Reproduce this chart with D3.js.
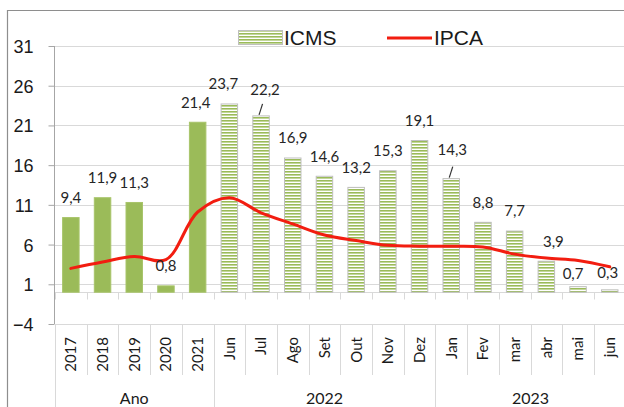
<!DOCTYPE html>
<html>
<head>
<meta charset="utf-8">
<script src="https://cdnjs.cloudflare.com/ajax/libs/d3/7.8.5/d3.min.js"></script>
<style>
  body { margin: 0; background: #fff; }
  svg { display: block; }
</style>
</head>
<body>
<svg id="chart" width="624" height="407"></svg>
<script>
  // categories (first group = annual values, then monthly 2022 / 2023)
  const categories = ["2017", "2018", "2019", "2020", "2021",
    "Jun", "Jul", "Ago", "Set", "Out", "Nov", "Dez",
    "Jan", "Fev", "mar", "abr", "mai", "jun"];
  const groupLabels = ["Ano", "2022", "2023"];
  const groupSizes = [5, 7, 6];

  const icms = [9.4, 11.9, 11.3, 0.8, 21.4, 23.7, 22.2, 16.9, 14.6, 13.2, 15.3, 19.1,
    14.3, 8.8, 7.7, 3.9, 0.7, 0.3];
  const ipca = [3.0, 3.8, 4.5, 4.1, 10.1, 11.9, 10.0, 8.6, 7.2, 6.5, 5.9, 5.8,
    5.8, 5.7, 4.8, 4.3, 4.0, 3.2];

  const yTicks = [-4, 1, 6, 11, 16, 21, 26, 31];

  const green = "#9bbb59";
  const red = "#f21d10";

  const svg = d3.select("#chart");

  const plotLeft = 55, plotRight = 625.6, plotTop = 46, plotBottom = 324;

  const x = d3.scaleBand()
    .domain(d3.range(categories.length))
    .range([plotLeft, plotRight])
    .paddingInner(0.48)
    .paddingOuter(0.24);
  const step = x.step();
  const cx = i => x(i) + x.bandwidth() / 2;

  const y = d3.scaleLinear().domain([-4, 31]).range([plotBottom, plotTop]);

  // stripe pattern for monthly bars
  const defs = svg.append("defs");
  const pat = defs.append("pattern")
    .attr("id", "stripes")
    .attr("patternUnits", "userSpaceOnUse")
    .attr("width", 6).attr("height", 3);
  pat.append("rect").attr("width", 6).attr("height", 3).attr("fill", "#fff");
  pat.append("rect").attr("width", 6).attr("height", 1.6).attr("fill", green);

  // chart border
  svg.append("path")
    .attr("d", "M7.5,407 V10.5 H624")
    .attr("fill", "none")
    .attr("stroke", "#8e8e8e")
    .attr("stroke-width", 1.2);

  // gridlines
  svg.append("g")
    .selectAll("line")
    .data(yTicks)
    .join("line")
    .attr("x1", plotLeft).attr("x2", 624)
    .attr("y1", d => Math.round(y(d)) + 0.5)
    .attr("y2", d => Math.round(y(d)) + 0.5)
    .attr("stroke", "#d9d9d9");

  // y axis
  const yAxis = svg.append("g")
    .attr("transform", `translate(${plotLeft - 0.5},0)`)
    .call(d3.axisLeft(y).tickValues(yTicks).tickSize(6).tickPadding(15));
  yAxis.select(".domain").attr("stroke", "#a6a6a6").attr("d", `M0,${plotTop}V${plotBottom}`);
  yAxis.selectAll(".tick line").attr("stroke", "#a6a6a6");
  yAxis.selectAll(".tick text")
    .attr("font-family", "'Liberation Sans', Arial, sans-serif")
    .attr("font-size", 18)
    .attr("fill", "#1a1a1a")
    .attr("dy", "0.36em");

  // zero line of category axis with small ticks
  const y0 = Math.round(y(0)) + 0.5;
  svg.append("line")
    .attr("x1", plotLeft).attr("x2", 624)
    .attr("y1", y0).attr("y2", y0)
    .attr("stroke", "#d9d9d9");
  svg.append("g")
    .selectAll("line")
    .data(d3.range(categories.length + 1))
    .join("line")
    .attr("x1", i => Math.round(plotLeft + i * step) + 0.5)
    .attr("x2", i => Math.round(plotLeft + i * step) + 0.5)
    .attr("y1", y0).attr("y2", y0 + 7)
    .attr("stroke", "#d9d9d9");

  // category table below the plot
  const tableTop = Math.round(y(-4)) + 0.5;
  svg.append("g")
    .selectAll("line")
    .data(d3.range(categories.length + 1))
    .join("line")
    .attr("x1", i => Math.round(plotLeft + i * step) + 0.5)
    .attr("x2", i => Math.round(plotLeft + i * step) + 0.5)
    .attr("y1", tableTop).attr("y2", 375)
    .attr("stroke", "#d9d9d9");

  const groupBounds = [0];
  groupSizes.forEach((s, k) => groupBounds.push(groupBounds[k] + s));
  svg.append("g")
    .selectAll("line")
    .data(groupBounds)
    .join("line")
    .attr("x1", i => Math.round(plotLeft + i * step) + 0.5)
    .attr("x2", i => Math.round(plotLeft + i * step) + 0.5)
    .attr("y1", tableTop).attr("y2", 407)
    .attr("stroke", "#d9d9d9");

  svg.append("g")
    .selectAll("text")
    .data(categories)
    .join("text")
    .attr("transform", (d, i) => `translate(${cx(i)},337) rotate(-90)`)
    .attr("dy", "0.36em")
    .attr("text-anchor", "end")
    .attr("font-family", "Lato, sans-serif")
    .attr("font-size", 15)
    .attr("fill", "#1a1a1a")
    .text(d => d);

  svg.append("g")
    .selectAll("text")
    .data(groupLabels)
    .join("text")
    .attr("x", (d, k) => plotLeft + (groupBounds[k] + groupBounds[k + 1]) / 2 * step)
    .attr("y", 404)
    .attr("text-anchor", "middle")
    .attr("font-family", "Lato, sans-serif")
    .attr("font-size", 16)
    .attr("fill", "#1a1a1a")
    .text(d => d);

  // bars
  svg.append("g")
    .selectAll("rect")
    .data(icms)
    .join("rect")
    .attr("x", (d, i) => x(i))
    .attr("width", x.bandwidth())
    .attr("y", d => y(d))
    .attr("height", d => y(0) - y(d))
    .attr("fill", (d, i) => i < groupSizes[0] ? green : "url(#stripes)")
    .attr("stroke", (d, i) => i < groupSizes[0] ? "#a8c46a" : "#bfbfbf")
    .attr("stroke-width", 1);

  // IPCA line
  const line = d3.line()
    .curve(d3.curveCatmullRom)
    .x((d, i) => cx(i))
    .y(d => y(d));
  svg.append("path")
    .datum(ipca)
    .attr("d", line)
    .attr("fill", "none")
    .attr("stroke", red)
    .attr("stroke-width", 3)
    .attr("stroke-linecap", "round");

  // data labels (a few were moved by hand in the original)
  const nudge = { 4: [-2, 0], 5: [-6, 0], 6: [4, -6], 12: [1, -9], 15: [7, 0], 16: [-5, 7], 17: [-2, 3] };
  const labelPos = i => {
    const [dx, dy] = nudge[i] || [0, 0];
    return [cx(i) + dx, y(icms[i]) - 20 + dy];
  };
  svg.append("g")
    .selectAll("text")
    .data(icms)
    .join("text")
    .attr("x", (d, i) => labelPos(i)[0])
    .attr("y", (d, i) => labelPos(i)[1])
    .attr("dy", "0.36em")
    .attr("text-anchor", "middle")
    .attr("font-family", "Lato, sans-serif")
    .attr("font-size", 15)
    .attr("fill", "#262626")
    .text(d => d3.format(".1f")(d).replace(".", ","));

  // leader lines for moved labels
  [6, 12].forEach(i => {
    const top = y(icms[i]);
    svg.append("line")
      .attr("x1", cx(i) - 2).attr("y1", top - 1)
      .attr("x2", cx(i) + 1.5).attr("y2", top - 12)
      .attr("stroke", "#333")
      .attr("stroke-width", 1.2);
  });

  // legend
  const lg = svg.append("g").attr("font-family", "'Liberation Sans', Arial, sans-serif")
    .attr("font-size", 21).attr("fill", "#1a1a1a");
  lg.append("rect")
    .attr("x", 238.5).attr("y", 30.5).attr("width", 44).attr("height", 14)
    .attr("fill", "url(#stripes)").attr("stroke", "#bfbfbf");
  lg.append("text").attr("x", 284).attr("y", 45).text("ICMS");
  lg.append("line")
    .attr("x1", 387).attr("x2", 432).attr("y1", 38).attr("y2", 38)
    .attr("stroke", red).attr("stroke-width", 3);
  lg.append("text").attr("x", 434).attr("y", 45).text("IPCA");
</script>
</body>
</html>
